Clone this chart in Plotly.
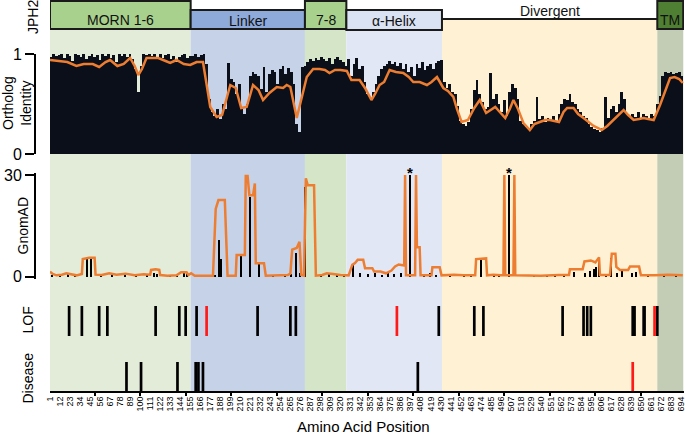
import plotly.graph_objects as go

# ---------------- data ----------------
domain_names = ["MORN 1-6", "Linker", "7-8", "α-Helix", "Divergent", "TM"]
domain_start = [1, 155.5, 281, 326.5, 431.5, 668]
domain_end = [155.5, 281, 326.5, 431.5, 668, 696.5]

# ortholog identity, one value per 3-residue bin starting at residue 1
orth_bin_width = 3
orth_bar_values = [
    0.97, 1.0, 0.98, 0.99, 1.0, 0.96, 1.0, 0.98, 0.93, 1.0,
    0.99, 0.97, 1.0, 0.95, 0.98, 1.0, 0.97, 0.99, 0.94, 1.0,
    0.98, 1.0, 0.96, 0.99, 0.92, 1.0, 0.98, 1.0, 0.97, 1.0,
    0.95, 0.85, 0.62, 0.88, 1.0, 0.99, 1.0, 0.98, 1.0, 0.97,
    1.0, 0.96, 0.99, 1.0, 0.95, 0.98, 0.92, 0.97, 0.99, 1.0,
    0.96, 0.98, 0.98, 1.0, 0.97, 0.99, 1.0, 0.9, 0.55, 0.42,
    0.38, 0.45, 0.35, 0.5, 0.45, 0.91, 0.75, 0.72, 0.6, 0.7,
    0.45, 0.4, 0.5, 0.78, 0.82, 0.8, 0.78, 0.65, 0.87, 0.62,
    0.8, 0.84, 0.82, 0.7, 0.85, 0.88, 0.8, 0.86, 0.82, 0.7,
    0.3, 0.22, 0.87, 0.88,
    0.92, 0.95, 0.93, 0.96, 0.94, 0.97, 0.95, 0.93, 0.96, 0.9,
    0.95, 0.97, 0.94, 0.92, 0.88,
    0.95, 0.78, 0.9, 0.96, 0.85, 0.88, 0.72, 0.6, 0.56, 0.62,
    0.7, 0.78, 0.85, 0.88, 0.9, 0.93, 0.9, 0.92, 0.88, 0.91,
    0.85, 0.9, 0.82, 0.87, 0.78, 0.9, 0.86, 0.92, 0.84, 0.88,
    0.9, 0.85, 0.91, 0.93, 0.94,
    0.72, 0.66, 0.7, 0.62, 0.6, 0.48, 0.33, 0.3, 0.28, 0.32,
    0.45, 0.64, 0.74, 0.6, 0.52, 0.45, 0.47, 0.81, 0.55, 0.6,
    0.5, 0.42, 0.54, 0.38, 0.62, 0.7, 0.66, 0.55, 0.33, 0.3,
    0.27, 0.25, 0.3, 0.33, 0.57, 0.35, 0.38, 0.32, 0.36, 0.34,
    0.38, 0.33, 0.4, 0.5, 0.55, 0.54, 0.6, 0.52, 0.5, 0.45,
    0.42, 0.38, 0.36, 0.3, 0.27, 0.25, 0.24, 0.22, 0.26, 0.57,
    0.36, 0.45, 0.48, 0.42, 0.5, 0.62, 0.55, 0.4, 0.38, 0.4,
    0.37, 0.42, 0.36, 0.4, 0.38, 0.36, 0.4, 0.38, 0.5,
    0.58, 0.78, 0.82, 0.81, 0.82, 0.8, 0.81, 0.82, 0.78,
]

# smoothed ortholog identity (orange)
orth_line_pos = [1, 10, 20, 30, 38, 48, 55, 62, 67, 75, 82, 89, 94, 98, 102, 107, 120, 128,
                 133, 140, 148, 155, 162, 169, 177, 184, 190, 199, 205, 211, 217, 224, 230,
                 235, 242, 250, 257, 261, 265, 272, 277, 283, 290, 297, 303, 308, 314, 320,
                 327, 332, 341, 347, 354, 358, 363, 368, 374, 381, 389, 395, 400, 407, 415,
                 420, 426, 433, 438, 444, 448, 453, 460, 467, 473, 480, 485, 490, 495, 501,
                 506, 510, 515, 521, 528, 533, 539, 545, 550, 555, 560, 565, 569, 576, 581,
                 587, 592, 598, 603, 607, 613, 620, 626, 631, 636, 642, 648, 653, 658, 664,
                 671, 677, 682, 687, 692, 696]
orth_line_val = [0.94, 0.93, 0.92, 0.88, 0.90, 0.90, 0.87, 0.92, 0.94, 0.88, 0.90, 0.96, 0.88,
                 0.79, 0.85, 0.96, 0.96, 0.93, 0.91, 0.94, 0.90, 0.89, 0.92, 0.92, 0.47, 0.37,
                 0.39, 0.69, 0.66, 0.46, 0.47, 0.69, 0.64, 0.54, 0.61, 0.67, 0.66, 0.69, 0.67,
                 0.36, 0.54, 0.77, 0.85, 0.85, 0.84, 0.81, 0.84, 0.84, 0.83, 0.74, 0.74, 0.66,
                 0.54, 0.60, 0.69, 0.72, 0.84, 0.82, 0.81, 0.77, 0.72, 0.72, 0.69, 0.72, 0.77,
                 0.66, 0.63, 0.57, 0.45, 0.32, 0.34, 0.46, 0.54, 0.41, 0.44, 0.47, 0.42, 0.36,
                 0.45, 0.54, 0.45, 0.31, 0.24, 0.30, 0.32, 0.34, 0.34, 0.33, 0.32, 0.42, 0.46,
                 0.46, 0.40, 0.36, 0.32, 0.28, 0.26, 0.24, 0.28, 0.34, 0.40, 0.44, 0.39, 0.34,
                 0.35, 0.36, 0.35, 0.34, 0.49, 0.64, 0.76, 0.77, 0.75, 0.71]

# gnomAD per-residue counts (black) and smoothed (orange)
gnomad_bar_pos = [3, 12, 21, 29, 42, 46, 57, 69, 83, 95,
                  107, 115, 119, 133, 141, 148, 152, 177, 182, 187,
                  189, 199, 203, 211, 221, 231, 246, 259, 266, 271,
                  276, 281, 299, 307, 316, 324, 334, 342, 350, 358,
                  366, 372, 379, 386, 396, 412, 418, 425, 440, 456,
                  463, 474, 489, 494, 505, 533, 547, 556, 566, 576,
                  589, 594, 598, 601, 604, 612, 617, 624, 629, 640,
                  645, 658, 675, 688]
gnomad_bar_val = [0.6, 0.5, 0.8, 0.5, 5.2, 5.2, 0.6, 0.5, 0.8, 0.5,
                  0.6, 1.2, 0.8, 0.5, 0.6, 1.0, 0.8, 0.5, 0.6, 10.8,
                  5.3, 0.6, 0.5, 6.4, 23.6, 3.7, 0.5, 0.6, 0.8, 7.0,
                  1.0, 26.4, 0.5, 0.8, 0.5, 0.6, 3.7, 1.0, 0.8, 1.2,
                  0.6, 1.0, 0.8, 1.2, 30.0, 0.6, 1.0, 0.6, 0.5, 0.6,
                  0.5, 4.8, 0.6, 0.5, 30.0, 0.5, 0.6, 0.5, 0.8, 1.5,
                  1.2, 1.8, 2.2, 3.0, 5.5, 0.8, 5.5, 1.0, 2.0, 1.0,
                  1.5, 0.5, 0.5, 0.5]
gnomad_line_pos = [1, 4, 8, 14, 19, 24, 30, 36, 37, 44, 50, 51, 58, 66, 74, 84, 94, 104, 111,
                   112, 117, 121, 122, 130, 140, 145, 151, 153, 156, 160, 180, 183, 186, 193,
                   195, 196, 205, 206, 215, 216, 218, 220, 224, 226, 227, 236, 238, 255, 262,
                   265, 267, 272, 275, 277, 280, 282, 284, 291, 293, 300, 305, 312, 320, 329,
                   333, 336, 339, 345, 347, 355, 357, 364, 370, 376, 380, 384, 390, 391, 392,
                   402, 403, 404, 407, 408, 420, 421, 429, 431, 445, 455, 468, 469, 480, 481,
                   488, 496, 499, 500, 501, 510, 511, 512, 540, 560, 571, 572, 586, 588, 595,
                   600, 604, 605, 616, 618, 622, 623, 627, 636, 638, 648, 650, 665, 680, 696]
gnomad_line_val = [1.5, 0.8, 0.4, 0.6, 1.0, 0.8, 0.4, 0.8, 5.2, 5.6, 5.6, 0.6, 0.5, 1.0, 0.6,
                   0.9, 0.4, 0.7, 0.6, 2.0, 2.2, 2.0, 0.5, 0.3, 0.4, 1.3, 1.3, 0.5, 1.0, 0.3,
                   0.3, 20.0, 22.6, 22.6, 8.0, 0.3, 0.3, 6.4, 6.4, 29.7, 29.7, 24.0, 24.0, 27.5,
                   4.0, 4.0, 0.3, 0.3, 0.5, 0.9, 8.0, 8.5, 10.3, 0.5, 0.3, 29.0, 27.0, 27.0,
                   0.3, 0.5, 1.0, 0.8, 0.5, 0.4, 3.5, 4.0, 5.0, 5.0, 2.5, 2.5, 1.5, 1.5, 1.0,
                   1.8, 3.0, 3.6, 3.3, 30.0, 0.4, 0.4, 30.0, 8.7, 8.7, 0.4, 0.4, 2.8, 2.8, 0.4,
                   0.6, 0.4, 0.4, 5.2, 5.4, 0.4, 0.6, 0.4, 0.4, 30.0, 0.4, 0.4, 30.0, 0.4, 0.3,
                   0.5, 0.5, 2.2, 2.2, 4.5, 4.8, 4.2, 5.7, 0.5, 0.5, 6.8, 6.8, 2.9, 2.0, 2.0,
                   3.0, 3.0, 0.4, 0.4, 0.6, 0.4]
gnomad_offscale_pos = [396, 505]

lof_black = [22, 36, 55, 64, 117, 143, 150, 162, 229, 265, 271, 428, 467, 477, 564,
             587, 591, 595, 641, 643, 653, 654, 668]
lof_red = [173, 382, 665]
disease_black = [85, 101, 141, 161, 164, 169, 405]
disease_red = [641]

x_tick_vals = [1, 12, 23, 34, 45, 56, 67, 78, 89, 100, 111, 122, 133, 144, 155, 166, 177, 188,
               199, 210, 221, 232, 243, 254, 265, 276, 287, 298, 309, 320, 331, 342, 353, 364,
               375, 386, 397, 408, 419, 430, 441, 452, 463, 474, 485, 496, 507, 518, 529, 540,
               551, 562, 573, 584, 595, 606, 617, 628, 639, 650, 661, 672, 683, 694]

# ---------------- styling ----------------
W, H = 685, 436
FONT = "Liberation Sans, Arial, sans-serif"
BAR = "#0b0f19"
ORANGE = "#ED7D31"
RED = "#ff1a1a"
X0_PX, X1_PX, PX_PER_AA = 50, 684, 0.9105
x_range = [1, 1 + (X1_PX - X0_PX) / PX_PER_AA]


def fy(py):
    return 1 - py / H


def fx(px):
    return px / W


header_fill = ["#a9d18e", "#8eaadb", "#a9d18e", "#dae3f3", None, "#4f7f33"]
header_top = [1, 10, 1, 10, 19, 1]
header_bot = [29, 29, 29, 30, 19, 29]
text_y = [20, 20.5, 20, 20.5, 10.5, 20]
shade_fill = ["#e2ecd9", "#c6d2e8", "#d5e6c8", "#e1e7f4", "#fff2d4", "#c3ccb5"]

fig = go.Figure()

orth_pos = [1 + orth_bin_width * i + (orth_bin_width - 1) / 2 for i in range(len(orth_bar_values))]
fig.add_trace(go.Bar(x=orth_pos, y=orth_bar_values, width=orth_bin_width,
                     marker=dict(color=BAR, line=dict(width=0)), xaxis="x", yaxis="y"))
fig.add_trace(go.Scatter(x=orth_line_pos, y=orth_line_val, mode="lines",
                         line=dict(color=ORANGE, width=2.5), xaxis="x", yaxis="y"))
fig.add_trace(go.Bar(x=gnomad_bar_pos, y=gnomad_bar_val, width=1.1,
                     marker=dict(color="black", line=dict(width=0)), xaxis="x", yaxis="y2"))
fig.add_trace(go.Scatter(x=gnomad_line_pos, y=gnomad_line_val, mode="lines",
                         line=dict(color=ORANGE, width=2.5), xaxis="x", yaxis="y2"))


def segs(ps):
    xs, ys = [], []
    for p in ps:
        xs += [p, p, None]
        ys += [0, 1, None]
    return xs, ys


for ps, col, ax in [(lof_black, "black", "y3"), (lof_red, RED, "y3"),
                    (disease_black, "black", "y4"), (disease_red, RED, "y4")]:
    xs, ys = segs(ps)
    fig.add_trace(go.Scatter(x=xs, y=ys, mode="lines", line=dict(color=col, width=2.7),
                             xaxis="x", yaxis=ax))

shapes = []
annotations = []
for i, name in enumerate(domain_names):
    s, e = domain_start[i], domain_end[i]
    shade_top = header_bot[i] + 1
    shapes.append(dict(type="rect", xref="x", yref="paper", x0=s, x1=e, y0=fy(391), y1=fy(shade_top),
                       fillcolor=shade_fill[i], line=dict(width=0), layer="below"))
    if header_fill[i]:
        shapes.append(dict(type="rect", xref="x", yref="paper", x0=s, x1=e,
                           y0=fy(header_bot[i]), y1=fy(header_top[i]),
                           fillcolor=header_fill[i], line=dict(color="#1a1a1a", width=2)))
    else:
        shapes.append(dict(type="line", xref="x", yref="paper", x0=s, x1=e,
                           y0=fy(header_top[i]), y1=fy(header_top[i]),
                           line=dict(color="#1a1a1a", width=2)))
    annotations.append(dict(x=(s + e) / 2, xref="x", y=fy(text_y[i]), yref="paper", text=name,
                            showarrow=False, xanchor="center", yanchor="middle",
                            font=dict(size=14, color="#111")))

for p in gnomad_offscale_pos:
    annotations.append(dict(x=p, xref="x", y=fy(172), yref="paper", text="<b>*</b>", showarrow=False,
                            xanchor="center", yanchor="middle", font=dict(size=15, color="black")))

side_labels = [("JPH2", 33, 17, 14), ("Ortholog<br>Identity", 17, 103, 14),
               ("GnomAD", 22.5, 226, 14), ("LOF", 27.5, 320, 14), ("Disease", 27.5, 378, 14)]
for txt, px, py, sz in side_labels:
    annotations.append(dict(x=fx(px), xref="paper", y=fy(py), yref="paper", text=txt, textangle=-90,
                            showarrow=False, xanchor="center", yanchor="middle",
                            font=dict(size=sz, color="black")))
annotations.append(dict(x=fx(363), xref="paper", y=fy(426), yref="paper", text="Amino Acid Position",
                        showarrow=False, xanchor="center", yanchor="middle",
                        font=dict(size=15, color="black")))

yax_common = dict(anchor="free", position=fx(35), ticks="outside", ticklen=9, tickwidth=2,
                  tickcolor="black", showline=True, linewidth=2, linecolor="black",
                  showgrid=False, zeroline=False, automargin=False,
                  tickfont=dict(size=16, color="black"))

px_per_g = (276.7 - 175) / 30
fig.update_layout(
    template="none",
    width=W, height=H, margin=dict(l=0, r=0, t=0, b=0, pad=0), autosize=False,
    paper_bgcolor="white", plot_bgcolor="rgba(0,0,0,0)", showlegend=False,
    font=dict(family=FONT, color="black"), bargap=0,
    xaxis=dict(domain=[fx(X0_PX), fx(X1_PX)], range=x_range, anchor="y4", automargin=False,
               tickmode="array", tickvals=x_tick_vals, ticktext=[str(v) for v in x_tick_vals],
               tickangle=-90, tickfont=dict(size=9, color="black"), ticks="",
               ticklabeloverflow="allow",
               showline=True, linecolor="black", linewidth=2, showgrid=False, zeroline=False,
               minor=dict(tickmode="linear", tick0=0, dtick=50, ticks="outside", ticklen=3,
                          tickwidth=2, tickcolor="black", showgrid=False)),
    yaxis=dict(domain=[fy(154), fy(54)], range=[0, 1], tickvals=[0, 1], **yax_common),
    yaxis2=dict(domain=[fy(276.7 + 0.6 * px_per_g), fy(175 - 0.6 * px_per_g)], range=[-0.6, 30.6],
                tickvals=[0, 30], **yax_common),
    yaxis3=dict(domain=[fy(336), fy(306)], range=[0, 1], visible=False, automargin=False),
    yaxis4=dict(domain=[fy(391), fy(362)], range=[0, 1], visible=False, automargin=False),
    shapes=shapes, annotations=annotations,
)

fig.write_html("out.html", config={"displayModeBar": False},
               post_script="document.body.style.margin='0px';")
